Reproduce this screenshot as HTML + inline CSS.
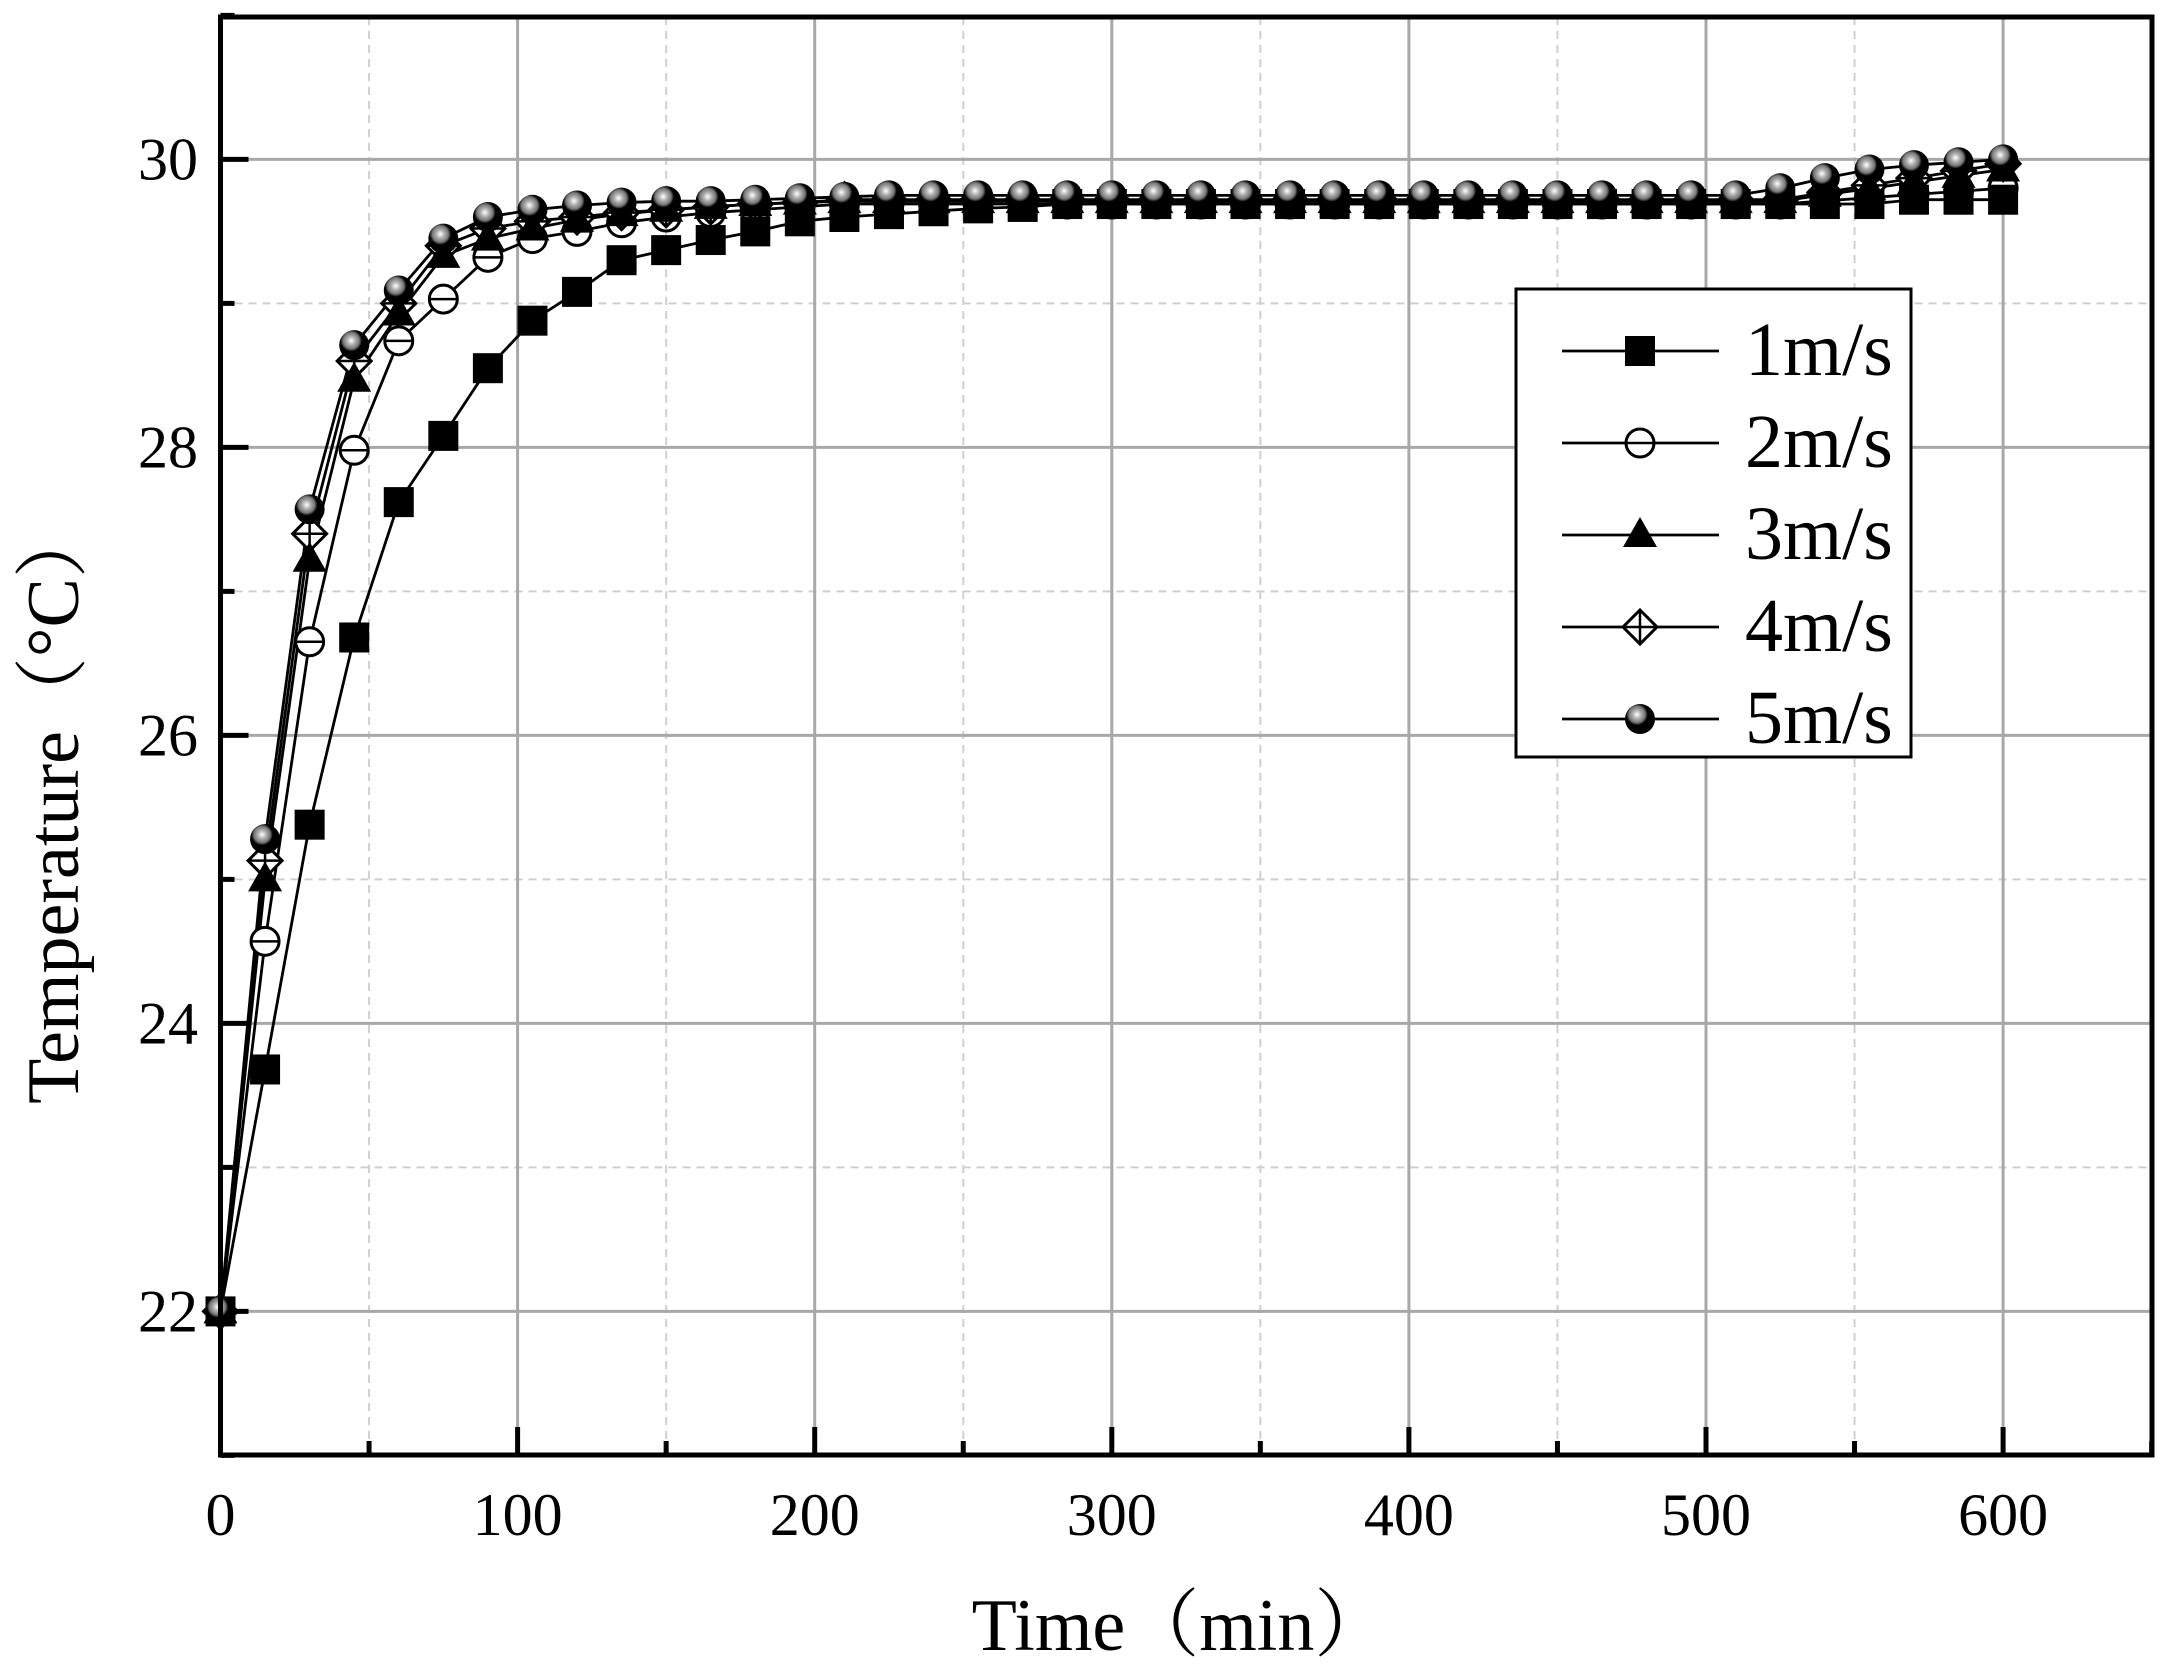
<!DOCTYPE html>
<html><head><meta charset="utf-8"><style>
html,body{margin:0;padding:0;background:#fff}
svg{display:block}
text{font-family:"Liberation Serif","Noto Serif CJK SC",serif;fill:#000}
</style></head><body>
<svg id="s" width="2174" height="1678" viewBox="0 0 2174 1678" xmlns="http://www.w3.org/2000/svg">
<defs>
<radialGradient id="sph" cx="0.4" cy="0.35" r="0.6">
<stop offset="0" stop-color="#fff"/><stop offset="0.25" stop-color="#aaa"/><stop offset="0.45" stop-color="#777"/><stop offset="0.6" stop-color="#000"/><stop offset="1" stop-color="#000"/>
</radialGradient>
</defs>
<g id="g"></g>
</svg>
<script>
const X0=220.5,KX=2.971,Y30=159.4,KY=144;
const L=220.5,R=2152,T=17,B=1455;
const px=t=>X0+t*KX, py=v=>Y30+(30-v)*KY;
let h='';
for(let t=50;t<650;t+=100)h+=`<line x1="${px(t)}" y1="${T}" x2="${px(t)}" y2="${B}" stroke="#d0d0d0" stroke-width="2" stroke-dasharray="8,6"/>`;
for(let v=22;v<31;v+=2){let y=py(v+1);if(y>T)h+=`<line x1="${L}" y1="${y}" x2="${R}" y2="${y}" stroke="#d0d0d0" stroke-width="2" stroke-dasharray="8,6"/>`;}
h+=`<line x1="${L}" y1="${py(21)}" x2="${R}" y2="${py(21)}" stroke="#d0d0d0" stroke-width="2" stroke-dasharray="8,6"/>`;
for(let t=100;t<=600;t+=100)h+=`<line x1="${px(t)}" y1="${T}" x2="${px(t)}" y2="${B}" stroke="#a8a8a8" stroke-width="3"/>`;
for(let v=22;v<=30;v+=2)h+=`<line x1="${L}" y1="${py(v)}" x2="${R}" y2="${py(v)}" stroke="#a8a8a8" stroke-width="3"/>`;
for(let t=0;t<=650;t+=50){let len=t%100?14:28;h+=`<line x1="${px(t)}" y1="${B}" x2="${px(t)}" y2="${B-len}" stroke="#000" stroke-width="5"/>`;}
for(let v=21;v<=31;v++){let len=v%2?14:28;h+=`<line x1="${L}" y1="${py(v)}" x2="${L+len}" y2="${py(v)}" stroke="#000" stroke-width="5"/>`;}
for(let t=0;t<=600;t+=100)h+=`<text x="${px(t)}" y="1535" font-size="60" text-anchor="middle">${t}</text>`;
for(let v=22;v<=30;v+=2)h+=`<text x="198" y="${py(v)+20}" font-size="60" text-anchor="end">${v}</text>`;
h+=`<text x="1180" y="1650" font-size="74" text-anchor="middle">Time（min）</text>`;
h+=`<text transform="translate(78,804) rotate(-90)" font-size="74" text-anchor="middle">Temperature（°C）</text>`;
function tail(arr,fn){while(arr.length<41){let i=arr.length;arr.push(fn(i*15));}return arr;}
const s1=tail([22,23.68,25.38,26.68,27.62,28.08,28.55,28.88,29.08,29.3,29.37,29.44,29.5,29.57,29.6,29.62,29.64,29.66,29.67],t=>t>=570?29.72:29.69);
const s2=tail([22,24.57,26.65,27.98,28.74,29.03,29.32,29.45,29.5,29.56,29.6,29.63,29.65,29.67],t=>t<530?29.69:29.69+(t-525)/75*0.11);
const s3=tail([22,25.0,27.22,28.47,28.93,29.33,29.45,29.52,29.58,29.62,29.65,29.67,29.69,29.7],t=>t<530?29.71:29.71+(t-525)/75*0.22);
const s4=tail([22,25.13,27.4,28.6,29.0,29.4,29.52,29.57,29.6,29.63,29.65,29.67,29.69,29.7],t=>t<530?29.72:29.72+(t-525)/75*0.25);
const s5=[22,25.28,27.57,28.71,29.09,29.45,29.6,29.65,29.68,29.7,29.71,29.71,29.72,29.73,29.74];
while(s5.length<35)s5.push(29.75);s5.push(29.8,29.87,29.93,29.96,29.98,30.0);
function mk(type,x,y){
 if(type==1)return `<rect x="${x-15}" y="${y-15}" width="30" height="30" fill="#000"/>`;
 if(type==2)return `<circle cx="${x}" cy="${y}" r="14" fill="#fff" stroke="#000" stroke-width="3"/><line x1="${x-14}" y1="${y}" x2="${x+14}" y2="${y}" stroke="#000" stroke-width="2.5"/>`;
 if(type==3)return `<polygon points="${x},${y-18} ${x+17},${y+12} ${x-17},${y+12}" fill="#000"/>`;
 if(type==4)return `<polygon points="${x},${y-17} ${x+17},${y} ${x},${y+17} ${x-17},${y}" fill="#fff" stroke="#000" stroke-width="3"/><line x1="${x-17}" y1="${y}" x2="${x+17}" y2="${y}" stroke="#000" stroke-width="2.5"/><line x1="${x}" y1="${y-17}" x2="${x}" y2="${y+17}" stroke="#000" stroke-width="2.5"/>`;
 return `<circle cx="${x}" cy="${y}" r="15" fill="url(#sph)"/>`;
}
const S=[s1,s2,s3,s4,s5];
S.forEach(s=>{let d=s.map((v,i)=>(i?'L':'M')+px(i*15).toFixed(1)+','+py(v).toFixed(1)).join('');h+=`<path d="${d}" fill="none" stroke="#000" stroke-width="2.8"/>`;});
[2,4,3,1,5].forEach(k=>{S[k-1].forEach((v,i)=>{h+=mk(k,px(i*15),py(v));});});
h+=`<rect x="${L}" y="${T}" width="${R-L}" height="${B-T}" fill="none" stroke="#000" stroke-width="5"/>`;
h+=`<rect x="1516" y="289" width="395" height="468" fill="#fff" stroke="#000" stroke-width="3"/>`;
const ly=[351,443,535,627,719];
ly.forEach((y,i)=>{h+=`<line x1="1562" y1="${y}" x2="1719" y2="${y}" stroke="#000" stroke-width="2.8"/>`+mk(i+1,1640,y)+`<text x="1745" y="${y+24}" font-size="76">${i+1}m/s</text>`;});
document.getElementById('g').innerHTML=h;
</script>
</body></html>
